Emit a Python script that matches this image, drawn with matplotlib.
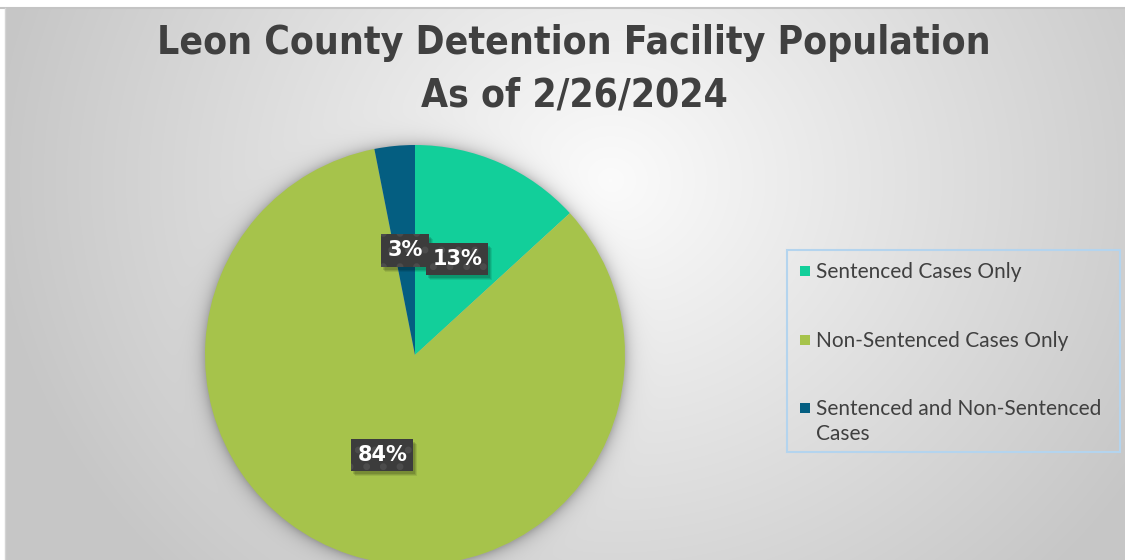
import numpy as np
import matplotlib
matplotlib.use("Agg")
import matplotlib.pyplot as plt
from matplotlib.patches import Rectangle
from matplotlib.transforms import IdentityTransform

# ---- data ----
categories = ["Sentenced Cases Only", "Non-Sentenced Cases Only",
              "Sentenced and Non-Sentenced\nCases"]
values = [13.2, 83.7, 3.1]
colors = ["#12CF9A", "#A6C34B", "#045E81"]
title_lines = ["Leon County Detention Facility Population", "As of 2/26/2024"]

W, H = 1125, 560
fig = plt.figure(figsize=(W / 100, H / 100), dpi=100)
fig.patch.set_facecolor("white")

# ---- background axes in pixel coordinates ----
bg = fig.add_axes([0, 0, 1, 1])
bg.set_xlim(0, W)
bg.set_ylim(H, 0)
bg.axis("off")

x0, y0 = 5, 8
yy, xx = np.mgrid[y0:H, x0:W]
d = np.sqrt((xx - 610) ** 2 + ((yy - 180) / 0.9) ** 2)
val = 0.985 - 0.2 * (d / 600)
val = np.clip(val, 0.78, 1.0)
# soft shadow around pie
cx, cy, R = 415, 355, 210
r = np.sqrt((xx - cx) ** 2 + (yy - cy) ** 2)
shade = np.where(r > R - 3, 0.2 * np.exp(-np.clip(r - R, 0, None) / 7.0), 0.2)
val = val - shade
img = np.dstack([val, val, val])
bg.imshow(img, extent=(x0, W, H, y0), aspect="auto", interpolation="bilinear", zorder=0)
bg.plot([0, W], [y0 - 0.5, y0 - 0.5], color="#c4c4c4", lw=1.5, zorder=1)
bg.plot([x0 - 0.5, x0 - 0.5], [y0, H], color="#d4d4d4", lw=1.0, zorder=1)

# ---- title ----
title_font = ["DejaVu Sans"]
t1 = bg.text(574, 43, title_lines[0], ha="center", va="center", fontsize=34,
             fontweight="bold", fontstretch="condensed", color="#404040",
             family=title_font, zorder=3)
t2 = bg.text(574, 96, title_lines[1], ha="center", va="center", fontsize=34,
             fontweight="bold", fontstretch="condensed", color="#404040",
             family=title_font, zorder=3)
fig.canvas.draw()
w1 = t1.get_window_extent().width
fs = 34 * 833 / w1
t1.set_fontsize(fs)
t2.set_fontsize(fs)

# ---- pie ----
pax = fig.add_axes([(cx - R) / W, (H - cy - R) / H, 2 * R / W, 2 * R / H])
pax.set_facecolor("none")
plt.rcParams["hatch.linewidth"] = 2.5
wedges, autotexts = pax.pie(values, colors=colors, startangle=90, counterclock=False,
                            autopct="%1.0f%%", pctdistance=0.5, radius=1.0,
                            wedgeprops=dict(linewidth=0),
                            textprops=dict(color="white", fontsize=15, fontweight="bold",
                                           family=["DejaVu Sans"]))[0::2]
pax.set_xlim(-1, 1)
pax.set_ylim(-1, 1)
pax.set_aspect("auto")
pax.axis("off")
for w in wedges:
    w.set_clip_on(False)
for t in autotexts:
    t.set_bbox(dict(boxstyle="square,pad=0.3", facecolor="#3c3c3c",
                    edgecolor="#4c4c4c", linewidth=0, hatch="."))
    t.set_zorder(5)

fig.canvas.draw()
for t in autotexts:
    bb = t.get_bbox_patch().get_window_extent()
    for k, a in [(5, 0.08), (4, 0.1), (3, 0.12)]:
        sh = Rectangle((bb.x0 + k - 1, bb.y0 - k), bb.width, bb.height,
                       transform=IdentityTransform(),
                       facecolor="black", alpha=a, edgecolor="none", zorder=4)
        pax.add_artist(sh)

# ---- legend ----
bg.add_patch(Rectangle((787, 250), 333, 202, facecolor="none", edgecolor="#b4d4ee",
                       linewidth=1.5, zorder=3))
leg_y = [271, 340, 408]
for lab, col, ly in zip(categories, colors, leg_y):
    bg.add_patch(Rectangle((800, ly - 5), 10, 10, facecolor=col, edgecolor="none", zorder=4))
    bg.text(816, ly - 9, lab, ha="left", va="top", fontsize=15, color="#404040",
            family=["Lato", "DejaVu Sans"], linespacing=1.3, zorder=4)

fig.savefig("out.png", dpi=100)
